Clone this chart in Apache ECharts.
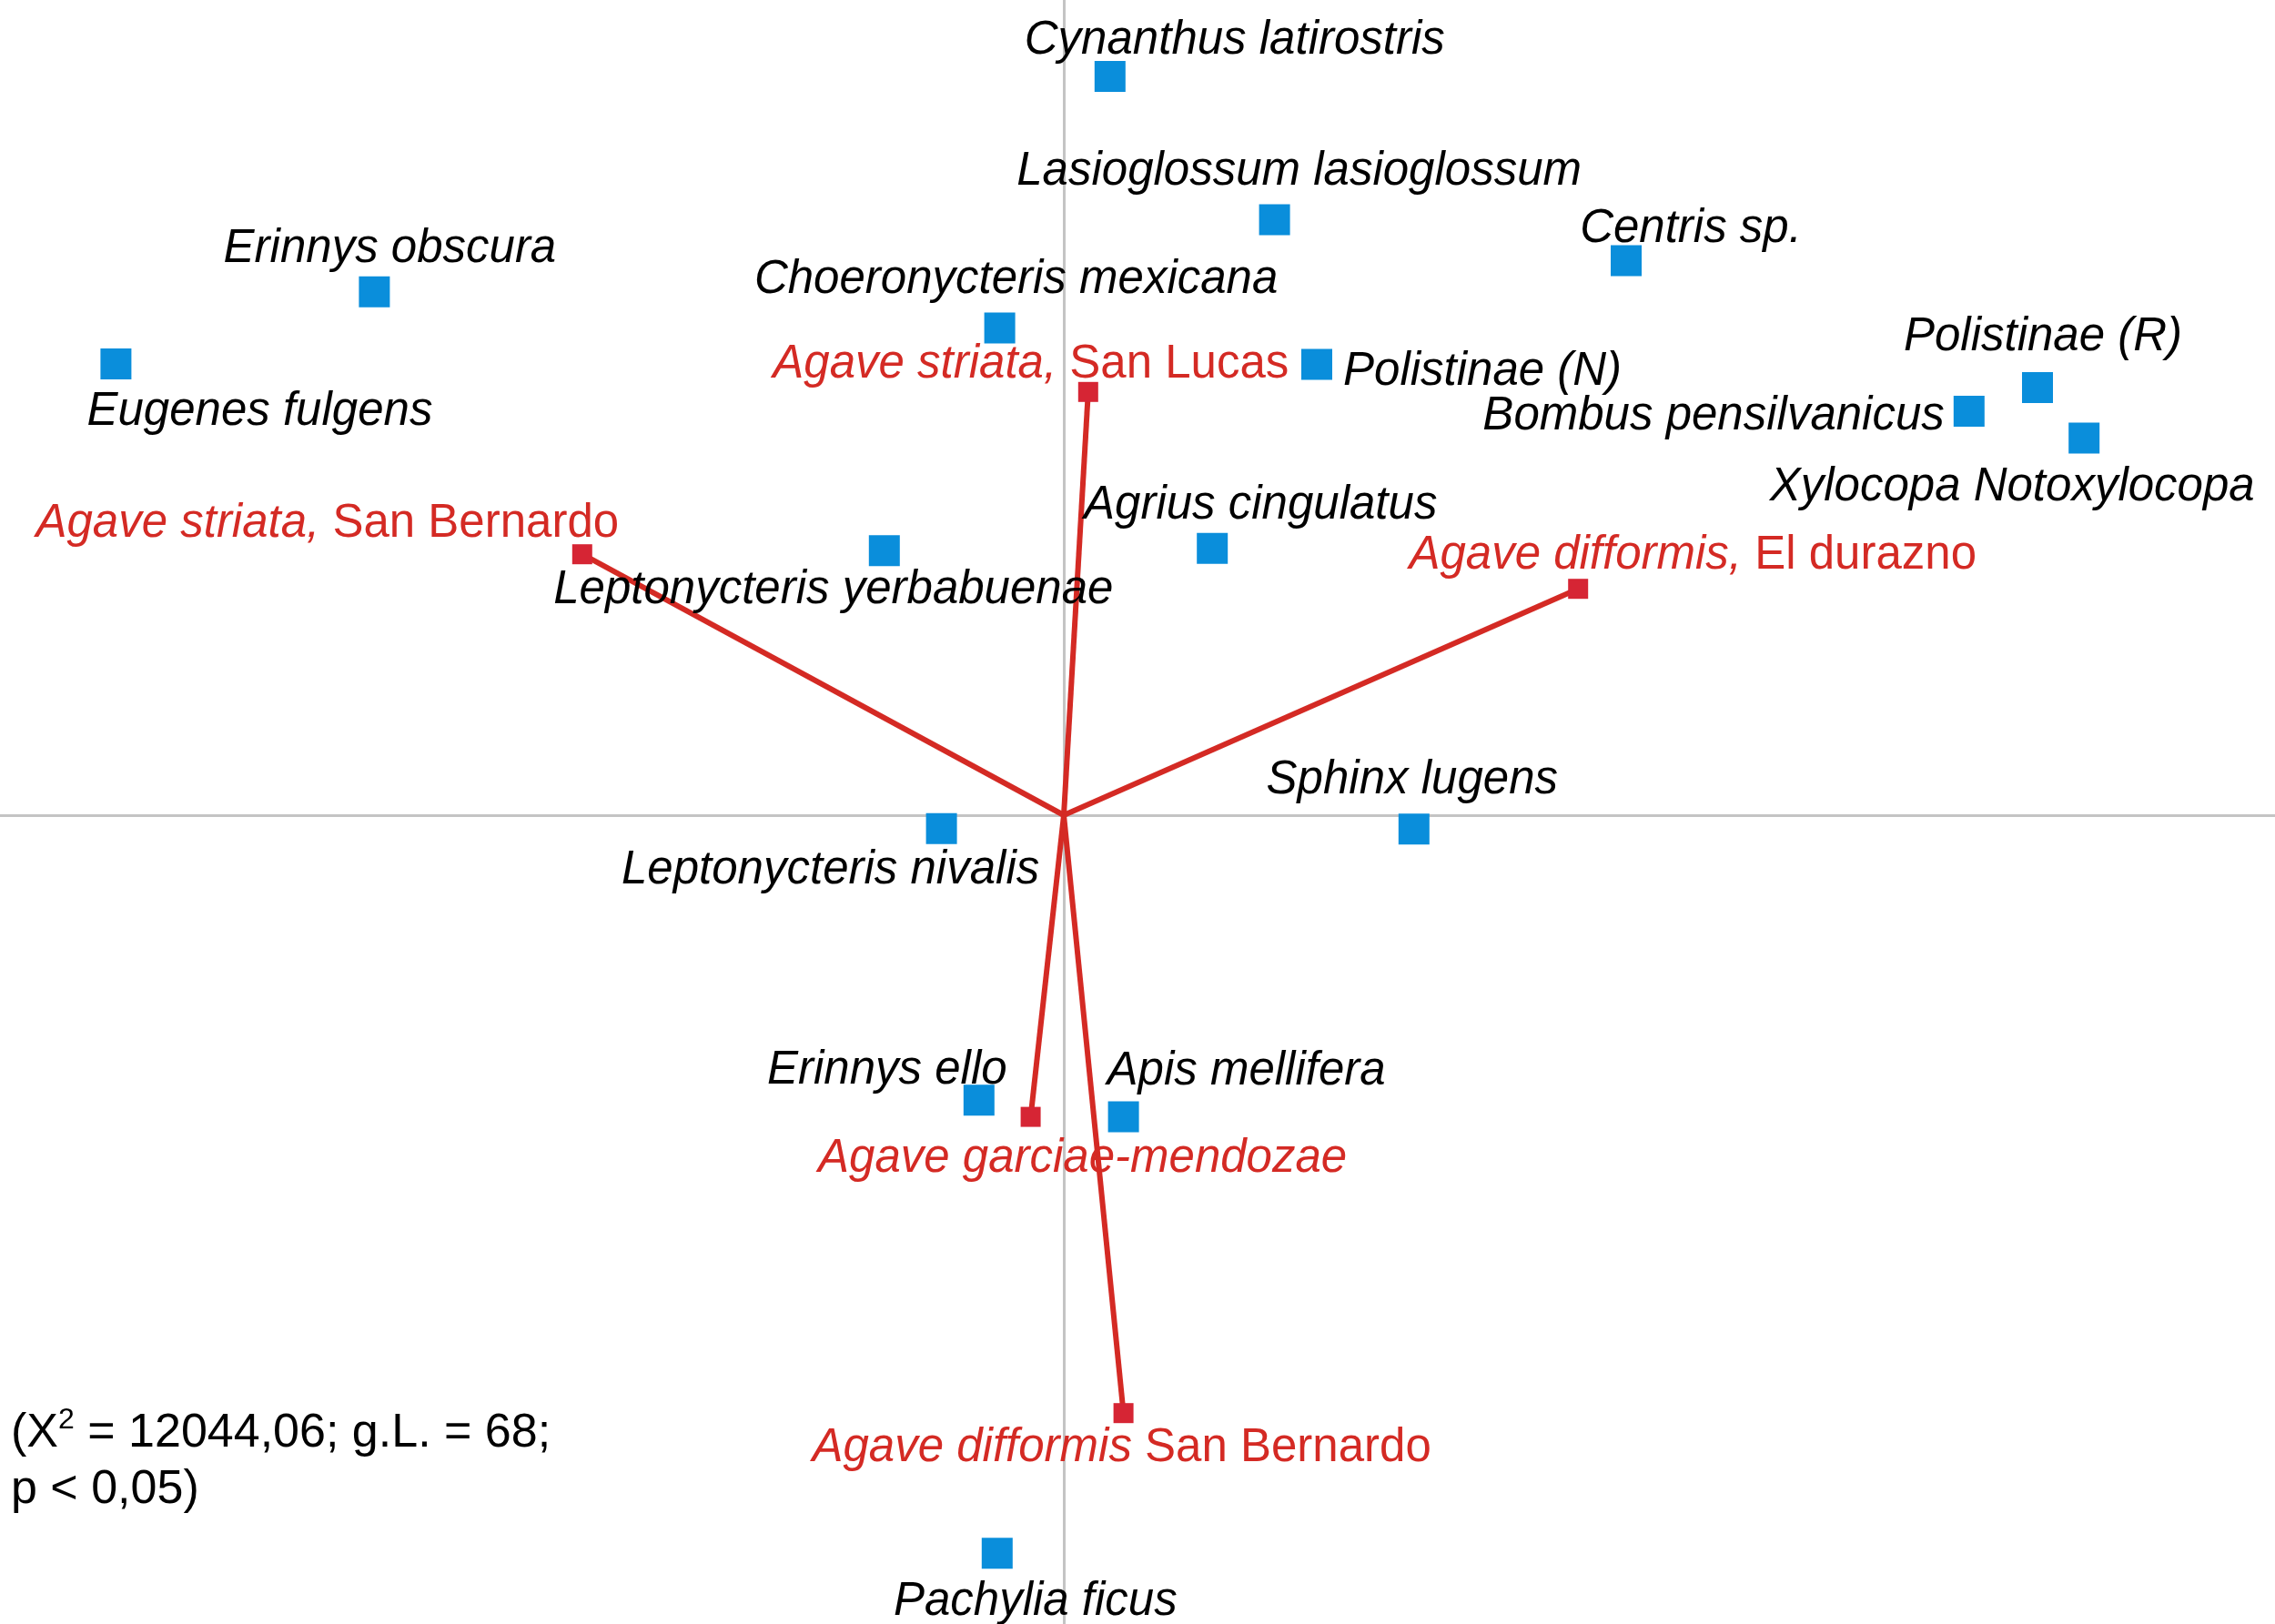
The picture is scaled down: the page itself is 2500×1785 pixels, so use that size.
<!DOCTYPE html>
<html>
<head>
<meta charset="utf-8">
<script src="https://cdn.jsdelivr.net/npm/echarts@6/dist/echarts.min.js"></script>
<style>
html,body{margin:0;padding:0;background:#fff;}
#chart{width:2500px;height:1785px;}
</style>
</head>
<body>
<div id="chart"></div>
<script>
// ---- Data (correspondence analysis coordinates) ----
const speciesNames = [
  'Cynanthus latirostris', 'Lasioglossum lasioglossum', 'Centris sp.', 'Erinnys obscura',
  'Eugenes fulgens', 'Choeronycteris mexicana', 'Polistinae (N)', 'Polistinae (R)',
  'Bombus pensilvanicus', 'Xylocopa Notoxylocopa', 'Agrius cingulatus', 'Leptonycteris yerbabuenae',
  'Sphinx lugens', 'Leptonycteris nivalis', 'Erinnys ello', 'Apis mellifera', 'Pachylia ficus'
];
const speciesX = [0.127, 0.579, 1.545, -1.894, -2.604, -0.176, 0.695, 2.675, 2.487, 2.803, 0.408, -0.493, 0.962, -0.336, -0.233, 0.164, -0.183];
const speciesY = [2.030, 1.636, 1.524, 1.438, 1.240, 1.339, 1.239, 1.175, 1.110, 1.036, 0.733, 0.727, -0.038, -0.037, -0.783, -0.829, -2.028];

const agaveItalic = ['Agave striata,', 'Agave striata,', 'Agave difformis,', 'Agave garciae-mendozae', 'Agave difformis'];
const agaveRoman  = [' San Lucas', ' San Bernardo', ' El durazno', '', ' San Bernardo'];
const agaveX = [0.067, -1.323, 1.413, -0.091, 0.164];
const agaveY = [1.163, 0.717, 0.622, -0.829, -1.643];

const statLine1 = ['(X', '2', ' = 12044,06; g.L. = 68;'];
const statLine2 = 'p < 0,05)';

// ---- Layout (label placement, px offsets from marker centre) ----
const speciesLabelLayout = [
  {o: [137, -39], a: 'center'}, {o: [27, -53], a: 'center'}, {o: [71, -35], a: 'center'},
  {o: [17, -47], a: 'center'}, {o: [158, 53], a: 'center'}, {o: [18, -53], a: 'center'},
  {o: [29, 8], a: 'left'}, {o: [6, -55], a: 'center'}, {o: [-27, 6], a: 'right'},
  {o: [-79, 54], a: 'center'}, {o: [53, -47], a: 'center'}, {o: [-56, 44], a: 'center'},
  {o: [-2, -53], a: 'center'}, {o: [-122, 46], a: 'center'}, {o: [-101, -32], a: 'center'},
  {o: [135, -50], a: 'center'}, {o: [42, 54], a: 'center'}
];
const agaveLabelLayout = [
  {o: [-63, -30], a: 'center'}, {o: [-280, -33], a: 'center'}, {o: [126, -36], a: 'center'},
  {o: [57, 46], a: 'center'}, {o: [-2, 39], a: 'center'}
];

const FONT = '"Liberation Sans", Arial, Helvetica, sans-serif';
const FS = 51;
const RED = '#d42a24';
const BLUE = '#0a8edb';

const PX = 400; // pixels per unit
const OX = 1169, OY = 896;

const speciesData = speciesNames.map((n, i) => ({
  name: n,
  value: [speciesX[i], speciesY[i]],
  label: {offset: speciesLabelLayout[i].o, align: speciesLabelLayout[i].a}
}));

const agaveData = agaveItalic.map((n, i) => ({
  name: n + agaveRoman[i],
  value: [agaveX[i], agaveY[i]],
  label: {
    offset: agaveLabelLayout[i].o, align: agaveLabelLayout[i].a,
    formatter: agaveRoman[i] ? '{i|' + n + '}{n|' + agaveRoman[i] + '}' : '{i|' + n + '}'
  }
}));

const lineSeries = agaveX.map((x, i) => ({
  type: 'line',
  data: [[0, 0], [x, agaveY[i]]],
  symbol: 'none',
  silent: true,
  z: 2,
  lineStyle: {color: RED, width: 6, opacity: 1},
  animation: false
}));

const chart = echarts.init(document.getElementById('chart'));
chart.setOption({
  animation: false,
  backgroundColor: '#ffffff',
  grid: {left: 0, right: 0, top: 0, bottom: 0, containLabel: false},
  xAxis: {
    type: 'value', min: -OX / PX, max: (2500 - OX) / PX,
    axisLine: {show: true, onZero: true, lineStyle: {color: '#c4c4c4', width: 3}},
    axisTick: {show: false}, axisLabel: {show: false}, splitLine: {show: false}
  },
  yAxis: {
    type: 'value', min: -(1785 - OY) / PX, max: OY / PX,
    axisLine: {show: true, onZero: true, lineStyle: {color: '#c4c4c4', width: 3}},
    axisTick: {show: false}, axisLabel: {show: false}, splitLine: {show: false}
  },
  series: [
    ...lineSeries,
    {
      type: 'scatter',
      name: 'Agave',
      data: agaveData,
      symbol: 'rect',
      symbolSize: 22,
      z: 3,
      itemStyle: {color: '#d62534', opacity: 1},
      label: {
        show: true, position: 'inside', verticalAlign: 'middle', opacity: 1,
        rich: {
          i: {fontFamily: FONT, fontSize: FS, fontStyle: 'italic', color: RED},
          n: {fontFamily: FONT, fontSize: FS, fontStyle: 'normal', color: RED}
        }
      }
    },
    {
      type: 'scatter',
      name: 'Visitantes',
      data: speciesData,
      symbol: 'rect',
      symbolSize: 34,
      z: 4,
      itemStyle: {color: BLUE, opacity: 1},
      label: {
        show: true, position: 'inside', verticalAlign: 'middle', opacity: 1,
        formatter: p => p.name,
        fontFamily: FONT, fontSize: FS, fontStyle: 'italic', color: '#000'
      }
    }
  ],
  graphic: [{
    type: 'text',
    left: 12,
    top: 1545,
    z: 10,
    style: {
      text: '{a|' + statLine1[0] + '}{s|' + statLine1[1] + '}{a|' + statLine1[2] + '}\n{a|' + statLine2 + '}',
      rich: {
        a: {fontFamily: FONT, fontSize: 52, color: '#000', lineHeight: 62},
        s: {fontFamily: FONT, fontSize: 32, color: '#000', verticalAlign: 'top', lineHeight: 62, padding: [0, 0, 22, 0]}
      }
    }
  }]
});
</script>
</body>
</html>
